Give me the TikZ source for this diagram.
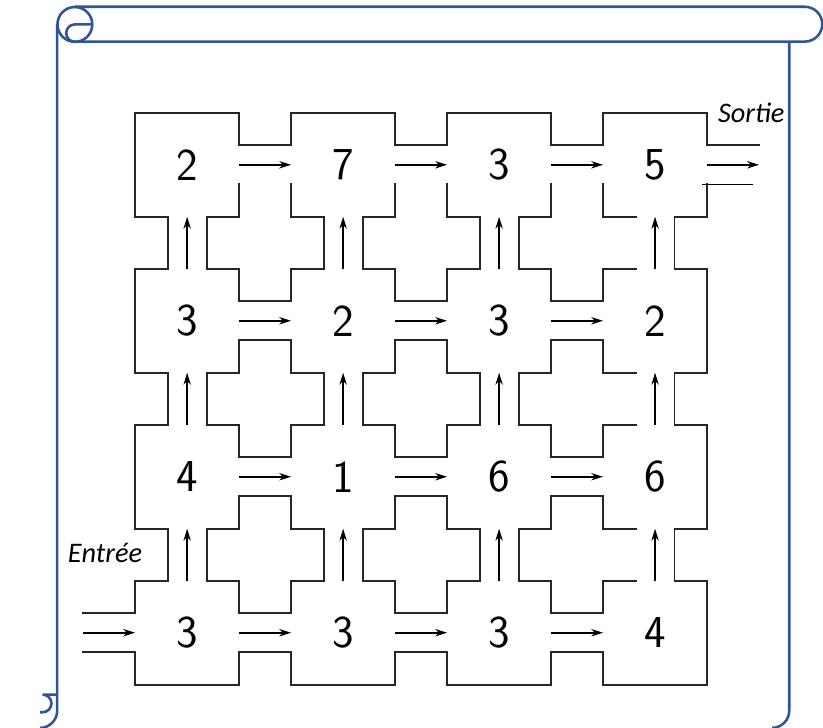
\documentclass[tikz,border=0pt]{standalone}
\usepackage{fontspec}
\newfontfamily\labelfont{Carlito}
\usepackage{tikz}
\usetikzlibrary{arrows.meta}

\definecolor{scrollblue}{RGB}{47,85,151}

\begin{document}
\begin{tikzpicture}[>={Stealth[length=6.5pt,width=4pt,inset=2pt]},
  wall/.style={line width=1pt,black!85,line cap=rect},
  flow/.style={->,line width=0.9pt},
  val/.style={font=\sffamily\fontsize{25}{28}\selectfont},
  tag/.style={font=\labelfont\itshape\fontsize{15.5}{18}\selectfont},
  scrollline/.style={scrollblue,line width=1.4pt}]
\useasboundingbox (-2.6,-0.83) rectangle (13.23,13.17);
% scroll frame
\draw[scrollline] (-1.16,13.04) -- (12.88,13.04) arc (90:-90:0.335) -- (-1.16,12.37);
\draw[scrollline] (-1.16,12.70) circle (0.335);
\draw[scrollline] (-0.82,12.70) -- (-1.16,12.70) arc (90:270:0.167);
\draw[scrollline] (-1.50,12.70) -- (-1.50,-0.50) arc (0:-90:0.33);
\draw[scrollline] (12.58,12.37) -- (12.58,-0.50) arc (0:-90:0.33);
\draw[scrollline] (-1.50,-0.19) -- (-1.78,-0.19) arc (90:-90:0.17) -- (-1.83,-0.53);
% room corners
\foreach \i in {0,...,3}
  \foreach \j in {0,...,3} {
    \begin{scope}[shift={({3*\i},{3*\j})}]
      \draw[wall] (0,0.625) -- (0,0) -- (0.625,0);
      \draw[wall] (1.375,0) -- (2,0) -- (2,0.625);
      \draw[wall] (2,1.375) -- (2,2) -- (1.375,2);
      \draw[wall] (0.625,2) -- (0,2) -- (0,1.375);
    \end{scope}
  }
% closed sides
\foreach \i in {0,...,3} {
  \draw[wall] ({3*\i+0.625},0) -- ({3*\i+1.375},0);
  \draw[wall] ({3*\i+0.625},11) -- ({3*\i+1.375},11);
}
\foreach \j in {1,2,3}
  \draw[wall] (0,{3*\j+0.625}) -- (0,{3*\j+1.375});
\foreach \j in {0,1,2}
  \draw[wall] (11,{3*\j+0.625}) -- (11,{3*\j+1.375});
% corridors
\foreach \i in {0,1,2}
  \foreach \j in {0,...,3}
    \draw[wall] ({3*\i+2},{3*\j+1.375}) -- ({3*\i+3},{3*\j+1.375});
\foreach \i in {0,1,2}
  \foreach \j in {0,1,2} {
    \draw[wall] ({3*\i+2},{3*\j+0.625}) -- ({3*\i+3},{3*\j+0.625});
    \draw[wall] ({3*\i+0.625},{3*\j+2}) -- ({3*\i+0.625},{3*\j+3});
  }
\foreach \i in {0,...,3}
  \foreach \j in {0,1,2}
    \draw[wall] ({3*\i+1.375},{3*\j+2}) -- ({3*\i+1.375},{3*\j+3});
% entrance and exit
\draw[wall] (-1,0.625) -- (0,0.625);
\draw[wall] (-1,1.375) -- (0,1.375);
\draw[wall] (11,10.375) -- (12,10.375);
\draw[line width=0.6pt] (10.9,9.625) -- (11.88,9.625);
% arrows
\foreach \i in {0,1,2}
  \foreach \j in {0,...,3}
    \draw[flow] ({3*\i+2},{3*\j+1}) -- ({3*\i+3},{3*\j+1});
\foreach \i in {0,...,3}
  \foreach \j in {0,1,2}
    \draw[flow] ({3*\i+1},{3*\j+2}) -- ({3*\i+1},{3*\j+3});
\draw[flow] (-1,1) -- (0,1);
\draw[flow] (11,10) -- (12,10);
% values
\foreach \row [count=\j from 0] in {{3,3,3,4},{4,1,6,6},{3,2,3,2},{2,7,3,5}}
  \foreach \v [count=\i from 0] in \row
    \node[val] (n-\i-\j) at ({3*\i+1},{3*\j+1}) {\v};
\node[tag] (entree) at (-0.58,2.54) {Entrée};
\node[tag] (sortie) at (11.85,11.0) {Sortie};
\end{tikzpicture}
\end{document}
